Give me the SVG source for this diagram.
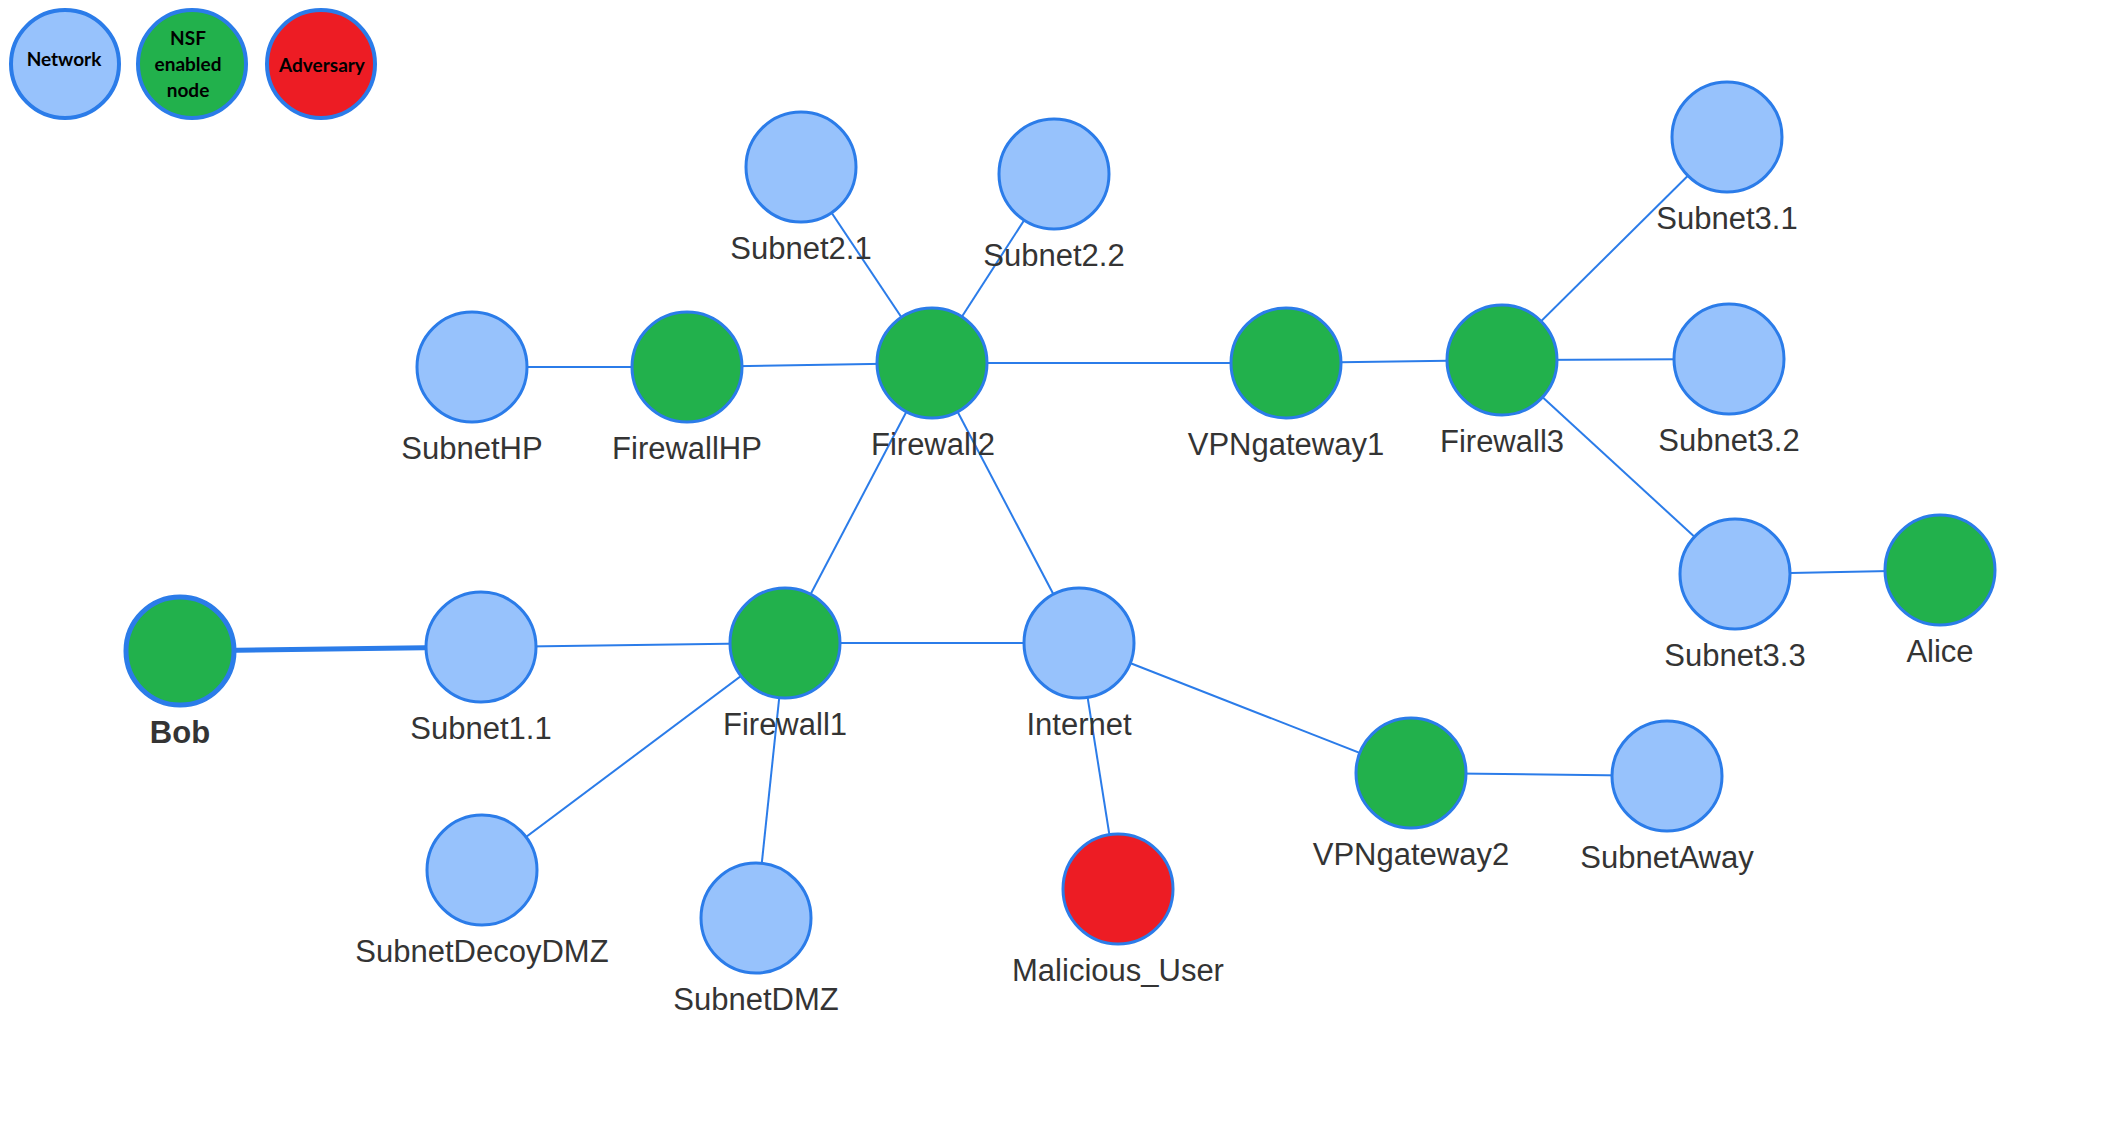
<svg xmlns="http://www.w3.org/2000/svg" width="2120" height="1123" viewBox="0 0 2120 1123">
<style>
.e{stroke:#2B7CE9;stroke-width:2;fill:none}
.n circle{stroke:#2B7CE9;stroke-width:3}
.net{fill:#97C2FC}
.nsf{fill:#22B14C}
.adv{fill:#ED1C24}
.lbl{font-family:"Liberation Sans",Arial,sans-serif;font-size:31px;fill:#343434;text-anchor:middle}
.leg circle{stroke:#2B7CE9;stroke-width:4}
.lt{font-family:Lato,"Open Sans",sans-serif;font-weight:bold;font-size:19px;fill:#000;text-anchor:middle}
</style>
<rect width="2120" height="1123" fill="#fff"/>
<g id="legend" class="leg">
<g id="legend-network"><circle class="net" cx="65" cy="64" r="54"/><text class="lt" x="64" y="66">Network</text></g>
<g id="legend-nsf"><circle class="nsf" cx="192" cy="64" r="54"/><text class="lt" x="188" y="45">NSF</text><text class="lt" x="188" y="71">enabled</text><text class="lt" x="188" y="97">node</text></g>
<g id="legend-adversary"><circle class="adv" cx="321" cy="64" r="54"/><text class="lt" x="322" y="72">Adversary</text></g>
</g>
<g id="connectors">
<line class="e" x1="801" y1="167" x2="932" y2="363"/>
<line class="e" x1="1054" y1="174" x2="932" y2="363"/>
<line class="e" x1="472" y1="367" x2="687" y2="367"/>
<line class="e" x1="687" y1="367" x2="932" y2="363"/>
<line class="e" x1="932" y1="363" x2="1286" y2="363"/>
<line class="e" x1="1286" y1="363" x2="1502" y2="360"/>
<line class="e" x1="1502" y1="360" x2="1727" y2="137"/>
<line class="e" x1="1502" y1="360" x2="1729" y2="359"/>
<line class="e" x1="1502" y1="360" x2="1735" y2="574"/>
<line class="e" x1="1735" y1="574" x2="1940" y2="570"/>
<line class="e" x1="932" y1="363" x2="785" y2="643"/>
<line class="e" x1="932" y1="363" x2="1079" y2="643"/>
<line class="e" x1="180" y1="651" x2="481" y2="647" style="stroke-width:5"/>
<line class="e" x1="481" y1="647" x2="785" y2="643"/>
<line class="e" x1="785" y1="643" x2="1079" y2="643"/>
<line class="e" x1="785" y1="643" x2="482" y2="870"/>
<line class="e" x1="785" y1="643" x2="756" y2="918"/>
<line class="e" x1="1079" y1="643" x2="1118" y2="889"/>
<line class="e" x1="1079" y1="643" x2="1411" y2="773"/>
<line class="e" x1="1411" y1="773" x2="1667" y2="776"/>
</g>
<g id="Subnet2.1" class="n"><circle class="net" cx="801" cy="167" r="55"/><text class="lbl" x="801" y="259">Subnet2.1</text></g>
<g id="Subnet2.2" class="n"><circle class="net" cx="1054" cy="174" r="55"/><text class="lbl" x="1054" y="266">Subnet2.2</text></g>
<g id="SubnetHP" class="n"><circle class="net" cx="472" cy="367" r="55"/><text class="lbl" x="472" y="459">SubnetHP</text></g>
<g id="FirewallHP" class="n"><circle class="nsf" cx="687" cy="367" r="55"/><text class="lbl" x="687" y="459">FirewallHP</text></g>
<g id="Firewall2" class="n"><circle class="nsf" cx="932" cy="363" r="55"/><text class="lbl" x="933" y="455">Firewall2</text></g>
<g id="VPNgateway1" class="n"><circle class="nsf" cx="1286" cy="363" r="55"/><text class="lbl" x="1286" y="455">VPNgateway1</text></g>
<g id="Firewall3" class="n"><circle class="nsf" cx="1502" cy="360" r="55"/><text class="lbl" x="1502" y="452">Firewall3</text></g>
<g id="Subnet3.1" class="n"><circle class="net" cx="1727" cy="137" r="55"/><text class="lbl" x="1727" y="229">Subnet3.1</text></g>
<g id="Subnet3.2" class="n"><circle class="net" cx="1729" cy="359" r="55"/><text class="lbl" x="1729" y="451">Subnet3.2</text></g>
<g id="Subnet3.3" class="n"><circle class="net" cx="1735" cy="574" r="55"/><text class="lbl" x="1735" y="666">Subnet3.3</text></g>
<g id="Alice" class="n"><circle class="nsf" cx="1940" cy="570" r="55"/><text class="lbl" x="1940" y="662">Alice</text></g>
<g id="Bob" class="n"><circle class="nsf" cx="180" cy="651" r="54" style="stroke-width:5"/><text class="lbl" x="180" y="743" style="font-weight:bold">Bob</text></g>
<g id="Subnet1.1" class="n"><circle class="net" cx="481" cy="647" r="55"/><text class="lbl" x="481" y="739">Subnet1.1</text></g>
<g id="Firewall1" class="n"><circle class="nsf" cx="785" cy="643" r="55"/><text class="lbl" x="785" y="735">Firewall1</text></g>
<g id="Internet" class="n"><circle class="net" cx="1079" cy="643" r="55"/><text class="lbl" x="1079" y="735">Internet</text></g>
<g id="SubnetDecoyDMZ" class="n"><circle class="net" cx="482" cy="870" r="55"/><text class="lbl" x="482" y="962">SubnetDecoyDMZ</text></g>
<g id="SubnetDMZ" class="n"><circle class="net" cx="756" cy="918" r="55"/><text class="lbl" x="756" y="1010">SubnetDMZ</text></g>
<g id="Malicious_User" class="n"><circle class="adv" cx="1118" cy="889" r="55"/><text class="lbl" x="1118" y="981">Malicious_User</text></g>
<g id="VPNgateway2" class="n"><circle class="nsf" cx="1411" cy="773" r="55"/><text class="lbl" x="1411" y="865">VPNgateway2</text></g>
<g id="SubnetAway" class="n"><circle class="net" cx="1667" cy="776" r="55"/><text class="lbl" x="1667" y="868">SubnetAway</text></g>
</svg>
